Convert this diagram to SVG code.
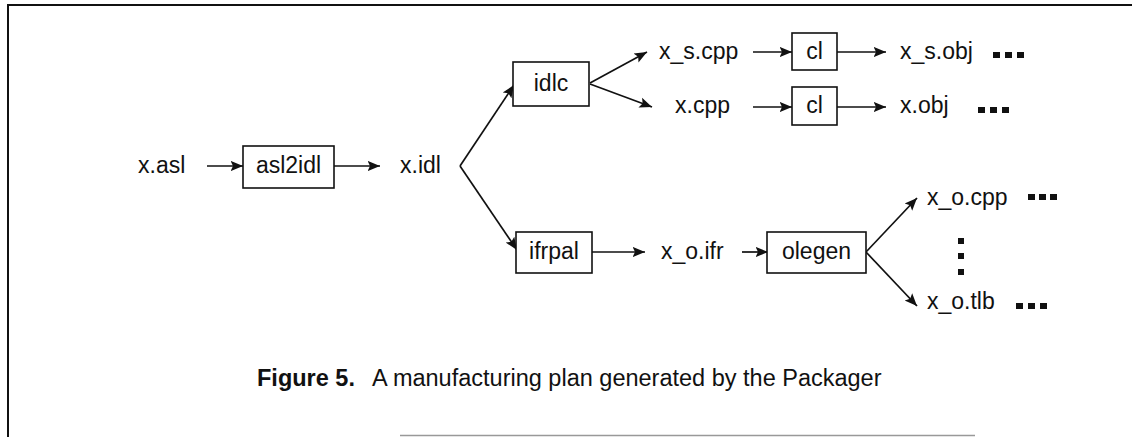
<svg xmlns="http://www.w3.org/2000/svg" width="1132" height="437" viewBox="0 0 1132 437">
<style>
.t{font-family:"Liberation Sans",Arial,sans-serif;font-size:23px;fill:#111}
.c{text-anchor:middle}
.b{fill:#fff;stroke:#111;stroke-width:1.6}
.e{fill:none;stroke:#111;stroke-width:1.7}
.d{fill:#111}
</style>
<defs>
<marker id="ah" markerUnits="userSpaceOnUse" markerWidth="14" markerHeight="12" viewBox="0 0 14 12" refX="12.5" refY="6" orient="auto">
<path d="M0,0.8 L12.5,6 L0,11.2 L2.5,6 z" fill="#111"/>
</marker>
</defs>
<rect width="1132" height="437" fill="#fff"/>
<g id="frame">
<line x1="8" y1="5" x2="1132" y2="5" stroke="#111" stroke-width="2"/>
<line x1="8" y1="4" x2="8" y2="437" stroke="#111" stroke-width="2"/>
<line x1="400" y1="435.5" x2="975" y2="435.5" stroke="#999" stroke-width="1.5"/>
</g>
<g id="connectors" class="e">
<path class="e" d="M207,166 L243,166" marker-end="url(#ah)"/>
<path class="e" d="M334,166 L380,166" marker-end="url(#ah)"/>
<path class="e" d="M460,166 L514,85" marker-end="url(#ah)"/>
<path class="e" d="M460,166 L517,250" marker-end="url(#ah)"/>
<path class="e" d="M590,83 L647,52" marker-end="url(#ah)"/>
<path class="e" d="M590,84 L652,107" marker-end="url(#ah)"/>
<path class="e" d="M753,52 L792,52" marker-end="url(#ah)"/>
<path class="e" d="M837,52 L886,52" marker-end="url(#ah)"/>
<path class="e" d="M753,107 L792,107" marker-end="url(#ah)"/>
<path class="e" d="M837,107 L886,107" marker-end="url(#ah)"/>
<path class="e" d="M592,252 L645,252" marker-end="url(#ah)"/>
<path class="e" d="M742,252 L768,252" marker-end="url(#ah)"/>
<path class="e" d="M866,252 L917,198" marker-end="url(#ah)"/>
<path class="e" d="M866,252 L917,306" marker-end="url(#ah)"/>
</g>
<g id="n-xasl"><text class="t" x="138" y="173">x.asl</text></g>
<g id="n-asl2idl"><rect class="b" x="243" y="146" width="91" height="42"/><text class="t c" x="288.5" y="173">asl2idl</text></g>
<g id="n-xidl"><text class="t" x="400" y="173">x.idl</text></g>
<g id="n-idlc"><rect class="b" x="513" y="62" width="76" height="44"/><text class="t c" x="551" y="91">idlc</text></g>
<g id="n-xscpp"><text class="t" x="659" y="59">x_s.cpp</text></g>
<g id="n-xcpp"><text class="t" x="675" y="113">x.cpp</text></g>
<g id="n-cl1"><rect class="b" x="792" y="33" width="45" height="37"/><text class="t c" x="814.5" y="59">cl</text></g>
<g id="n-cl2"><rect class="b" x="792" y="87" width="45" height="38"/><text class="t c" x="814.5" y="113">cl</text></g>
<g id="n-xsobj"><text class="t" x="900" y="59">x_s.obj</text>
<rect class="d" x="993" y="52" width="7" height="6"/><rect class="d" x="1005" y="52" width="7" height="6"/><rect class="d" x="1017" y="52" width="7" height="6"/></g>
<g id="n-xobj"><text class="t" x="900" y="113">x.obj</text>
<rect class="d" x="978" y="107" width="7" height="6"/><rect class="d" x="990" y="107" width="7" height="6"/><rect class="d" x="1002" y="107" width="7" height="6"/></g>
<g id="n-ifrpal"><rect class="b" x="516" y="232" width="76" height="41"/><text class="t c" x="554" y="259">ifrpal</text></g>
<g id="n-xoifr"><text class="t" x="661" y="259">x_o.ifr</text></g>
<g id="n-olegen"><rect class="b" x="767" y="232" width="99" height="41"/><text class="t c" x="816.5" y="259">olegen</text></g>
<g id="n-xocpp"><text class="t" x="927" y="205">x_o.cpp</text>
<rect class="d" x="1028" y="194" width="7" height="6"/><rect class="d" x="1039" y="194" width="7" height="6"/><rect class="d" x="1050" y="194" width="7" height="6"/></g>
<g id="n-vdots"><rect class="d" x="958" y="238" width="6" height="6"/><rect class="d" x="958" y="253" width="6" height="6"/><rect class="d" x="958" y="269" width="6" height="6"/></g>
<g id="n-xotlb"><text class="t" x="927" y="309">x_o.tlb</text>
<rect class="d" x="1016" y="303" width="7" height="6"/><rect class="d" x="1028" y="303" width="7" height="6"/><rect class="d" x="1040" y="303" width="7" height="6"/></g>
<g id="caption"><text class="t" x="257" y="386" style="font-size:23.5px"><tspan font-weight="bold">Figure 5.</tspan><tspan x="372">A manufacturing plan generated by the Packager</tspan></text></g>
</svg>
